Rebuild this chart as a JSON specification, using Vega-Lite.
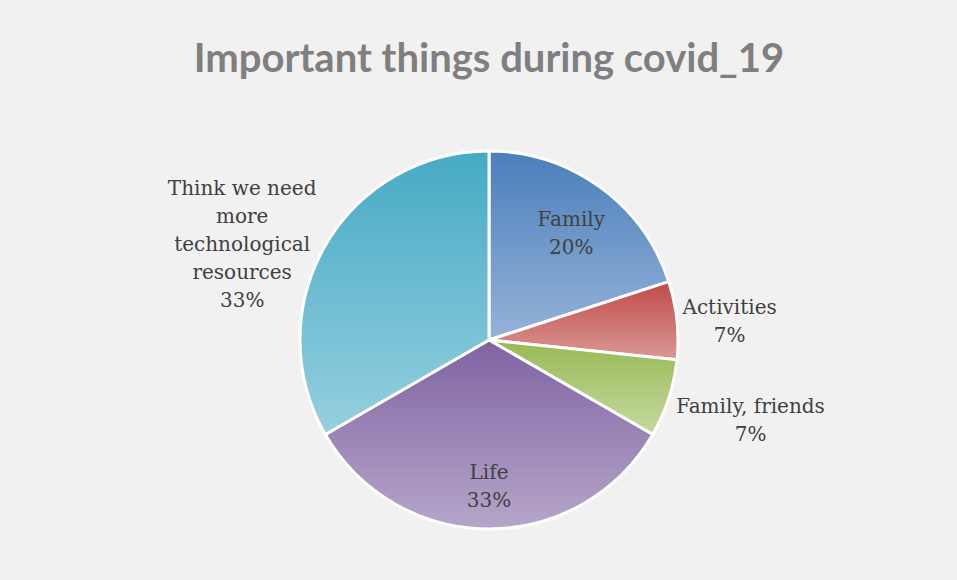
{
  "$schema": "https://vega.github.io/schema/vega-lite/v6.json",
  "width": 936,
  "height": 480,
  "autosize": "none",
  "padding": {"left": 21, "top": 100, "right": 0, "bottom": 0},
  "background": "#f1f1f1",
  "config": {"view": {"stroke": null}},
  "title": {
    "text": "Important things during covid_19",
    "font": "Lato",
    "fontSize": 40,
    "fontWeight": "bold",
    "color": "#7f7f7f",
    "anchor": "middle",
    "frame": "group",
    "baseline": "alphabetic",
    "offset": 24,
    "dy": 36
  },
  "data": {
    "values": [
      {"category": "Family", "value": 3, "lines": "Family"},
      {"category": "Activities", "value": 1, "lines": "Activities"},
      {"category": "Family, friends", "value": 1, "lines": "Family, friends"},
      {"category": "Life", "value": 5, "lines": "Life"},
      {"category": "Think we need more technological resources", "value": 5, "lines": "Think we need|more|technological|resources"}
    ]
  },
  "transform": [
    {"window": [{"op": "row_number", "as": "idx"}]},
    {"joinaggregate": [{"op": "sum", "field": "value", "as": "total"}]},
    {"stack": "value", "groupby": [], "sort": [{"field": "idx", "order": "ascending"}], "as": ["v0", "v1"]},
    {"calculate": "(datum.v0 + datum.v1) / 2", "as": "mid"},
    {"calculate": "split(datum.lines + '|' + format(datum.value / datum.total, '.0%'), '|')", "as": "label"}
  ],
  "layer": [
    {
      "transform": [{"filter": "datum.idx == 1"}],
      "mark": {"type": "arc", "outerRadius": 189, "stroke": "#ffffff", "strokeWidth": 3,
        "color": {"gradient": "linear", "x1": 0, "y1": 0, "x2": 0, "y2": 1, "stops": [{"offset": 0, "color": "#4a7ebb"}, {"offset": 1, "color": "#96b3d8"}]}},
      "encoding": {
        "theta": {"field": "v0", "type": "quantitative", "scale": {"domain": [0, 15]}},
        "theta2": {"field": "v1"}
      }
    },
    {
      "transform": [{"filter": "datum.idx == 2"}],
      "mark": {"type": "arc", "outerRadius": 189, "stroke": "#ffffff", "strokeWidth": 3,
        "color": {"gradient": "linear", "x1": 0, "y1": 0, "x2": 0, "y2": 1, "stops": [{"offset": 0, "color": "#be4b48"}, {"offset": 1, "color": "#dc9896"}]}},
      "encoding": {
        "theta": {"field": "v0", "type": "quantitative", "scale": {"domain": [0, 15]}},
        "theta2": {"field": "v1"}
      }
    },
    {
      "transform": [{"filter": "datum.idx == 3"}],
      "mark": {"type": "arc", "outerRadius": 189, "stroke": "#ffffff", "strokeWidth": 3,
        "color": {"gradient": "linear", "x1": 0, "y1": 0, "x2": 0, "y2": 1, "stops": [{"offset": 0, "color": "#98b954"}, {"offset": 1, "color": "#c6d9a0"}]}},
      "encoding": {
        "theta": {"field": "v0", "type": "quantitative", "scale": {"domain": [0, 15]}},
        "theta2": {"field": "v1"}
      }
    },
    {
      "transform": [{"filter": "datum.idx == 4"}],
      "mark": {"type": "arc", "outerRadius": 189, "stroke": "#ffffff", "strokeWidth": 3,
        "color": {"gradient": "linear", "x1": 0, "y1": 0, "x2": 0, "y2": 1, "stops": [{"offset": 0, "color": "#7f63a2"}, {"offset": 1, "color": "#b6a6ca"}]}},
      "encoding": {
        "theta": {"field": "v0", "type": "quantitative", "scale": {"domain": [0, 15]}},
        "theta2": {"field": "v1"}
      }
    },
    {
      "transform": [{"filter": "datum.idx == 5"}],
      "mark": {"type": "arc", "outerRadius": 189, "stroke": "#ffffff", "strokeWidth": 3,
        "color": {"gradient": "linear", "x1": 0, "y1": 0, "x2": 0, "y2": 1, "stops": [{"offset": 0, "color": "#46aac5"}, {"offset": 1, "color": "#96cfdf"}]}},
      "encoding": {
        "theta": {"field": "v0", "type": "quantitative", "scale": {"domain": [0, 15]}},
        "theta2": {"field": "v1"}
      }
    },
    {
      "transform": [{"filter": "datum.idx == 1 || datum.idx == 4"}],
      "mark": {"type": "text", "radius": 140, "dy": -7, "font": "DejaVu Serif", "fontSize": 20, "lineHeight": 28, "color": "#404040", "align": "center", "baseline": "middle"},
      "encoding": {
        "theta": {"field": "mid", "type": "quantitative", "scale": {"domain": [0, 15]}},
        "text": {"field": "label"}
      }
    },
    {
      "transform": [{"filter": "datum.idx == 2"}],
      "mark": {"type": "text", "radius": 255, "dx": -13, "dy": -5, "font": "DejaVu Serif", "fontSize": 20, "lineHeight": 28, "color": "#404040", "align": "center", "baseline": "middle"},
      "encoding": {
        "theta": {"field": "mid", "type": "quantitative", "scale": {"domain": [0, 15]}},
        "text": {"field": "label"}
      }
    },
    {
      "transform": [{"filter": "datum.idx == 3"}],
      "mark": {"type": "text", "radius": 255, "dx": 19, "dy": -12, "font": "DejaVu Serif", "fontSize": 20, "lineHeight": 28, "color": "#404040", "align": "center", "baseline": "middle"},
      "encoding": {
        "theta": {"field": "mid", "type": "quantitative", "scale": {"domain": [0, 15]}},
        "text": {"field": "label"}
      }
    },
    {
      "transform": [{"filter": "datum.idx == 5"}],
      "mark": {"type": "text", "radius": 255, "dx": -26, "dy": -24, "font": "DejaVu Serif", "fontSize": 20, "lineHeight": 28, "color": "#404040", "align": "center", "baseline": "middle"},
      "encoding": {
        "theta": {"field": "mid", "type": "quantitative", "scale": {"domain": [0, 15]}},
        "text": {"field": "label"}
      }
    }
  ]
}
